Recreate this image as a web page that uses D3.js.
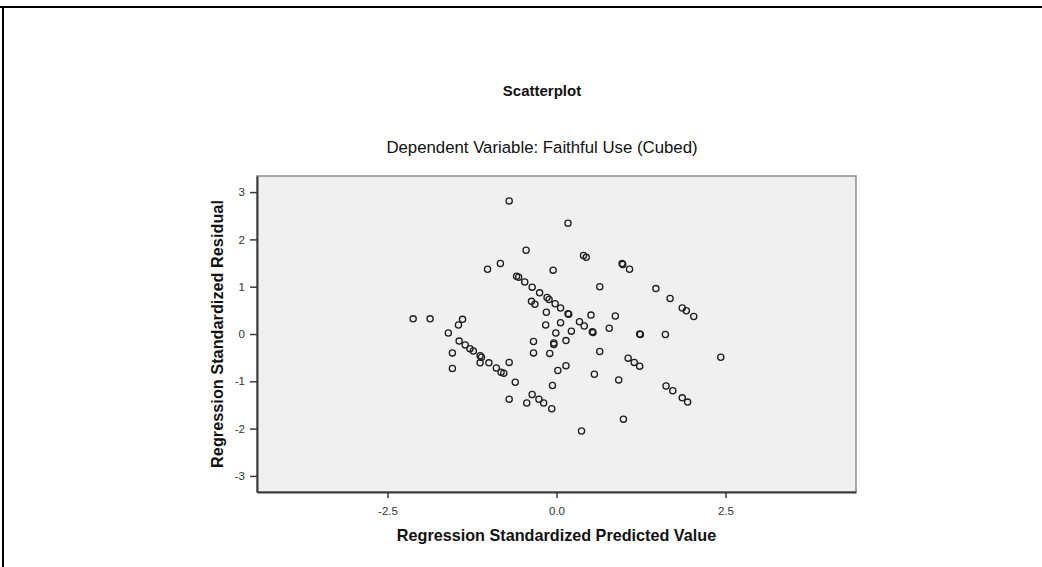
<!DOCTYPE html>
<html lang="en">
<head>
    <meta charset="UTF-8">
    <title>Scatterplot</title>
    <script src="https://d3js.org/d3.v7.min.js"></script>
    <style>
        body { margin: 0; background: #fff; }
        svg text { font-family: "Liberation Sans", Arial, sans-serif; }
    </style>
</head>
<body>
<div id="chart"></div>
<script type="text/javascript">

    // standardized predicted values (x) and residuals (y)
    var predicted = [
        -2.12, -1.87, -1.39, -1.45, -1.60, -1.44, -1.35, -1.28, -1.23, -1.13,
        -1.11, -1.54, -1.13, -1.00, -0.89, -0.82, -0.78, -0.70, -1.54, -0.61,
        -0.70, -0.44, -0.36, -0.26, -0.19, -0.07, -0.06, 0.02, 0.14, -0.10,
        -0.04, -0.04, 0.14, -0.34, -0.34, -0.16, -0.01, 0.06, 0.22, 0.34,
        0.41, 0.53, 0.54, 0.78, 0.87, 0.51, 0.64, 0.56, 0.92, 1.06,
        1.15, 1.23, 1.23, 1.24, 1.61, 2.43, 1.62, 1.72, 1.86, 1.94,
        0.99, 0.37, -0.70, 0.17, -0.45, -0.83, -1.02, -0.05, 0.40, 0.44,
        0.97, 0.98, 1.08, -0.59, -0.56, -0.47, -0.36, -0.25, -0.14, -0.11,
        -0.37, -0.32, -0.02, 0.06, 0.17, 0.18, -0.15, 0.64, 1.47, 1.68,
        1.86, 1.92, 2.03
    ];
    var residual = [
        0.32, 0.32, 0.31, 0.19, 0.02, -0.15, -0.23, -0.31, -0.36, -0.46,
        -0.49, -0.40, -0.61, -0.61, -0.72, -0.81, -0.83, -0.60, -0.73, -1.02,
        -1.38, -1.46, -1.28, -1.38, -1.46, -1.58, -1.09, -0.77, -0.67, -0.41,
        -0.22, -0.19, -0.14, -0.16, -0.40, 0.19, 0.02, 0.24, 0.06, 0.26,
        0.17, 0.05, 0.03, 0.12, 0.38, 0.40, -0.37, -0.85, -0.97, -0.51,
        -0.60, -0.68, 0.00, -0.01, -0.01, -0.49, -1.10, -1.20, -1.35, -1.44,
        -1.80, -2.05, 2.81, 2.34, 1.77, 1.49, 1.37, 1.35, 1.66, 1.62,
        1.49, 1.47, 1.37, 1.22, 1.20, 1.10, 0.99, 0.87, 0.77, 0.73,
        0.69, 0.63, 0.64, 0.55, 0.43, 0.42, 0.46, 1.00, 0.96, 0.75,
        0.55, 0.49, 0.37
    ];

    var yTicks = [-3, -2, -1, 0, 1, 2, 3];
    var xTicks = [-2.5, 0, 2.5];

    var title = "Scatterplot";
    var subtitle = "Dependent Variable: Faithful Use (Cubed)";
    var xTitle = "Regression Standardized Predicted Value";
    var yTitle = "Regression Standardized Residual";

    var width = 1042, height = 567;
    var plot = { left: 257, top: 176, width: 599, height: 316 };

    var svg = d3.select("#chart")
        .append("svg")
        .attr("width", width)
        .attr("height", height);

    // outer frame lines (top and left)
    svg.append("line")
        .attr("x1", 0).attr("x2", width)
        .attr("y1", 7).attr("y2", 7)
        .style("stroke", "#000").style("stroke-width", 2);
    svg.append("line")
        .attr("x1", 3).attr("x2", 3)
        .attr("y1", 6).attr("y2", height)
        .style("stroke", "#000").style("stroke-width", 2);

    var x = d3.scaleLinear()
        .domain([-4.43, 4.43])
        .range([plot.left, plot.left + plot.width]);

    var y = d3.scaleLinear()
        .domain([-3.34, 3.34])
        .range([plot.top + plot.height, plot.top]);

    // plot background
    svg.append("rect")
        .attr("x", plot.left)
        .attr("y", plot.top)
        .attr("width", plot.width)
        .attr("height", plot.height)
        .style("fill", "#f0f0f0")
        .style("stroke", "#8c8c8c")
        .style("stroke-width", 1.5);

    var yAxis = d3.axisLeft(y)
        .tickValues(yTicks)
        .tickSize(7)
        .tickSizeOuter(0)
        .tickPadding(5)
        .tickFormat(function(d) { return String(d); });

    var xAxis = d3.axisBottom(x)
        .tickValues(xTicks)
        .tickSize(6)
        .tickSizeOuter(0)
        .tickPadding(9)
        .tickFormat(function(d) { return d.toFixed(1); });

    var gy = svg.append("g")
        .attr("transform", "translate(" + plot.left + ",0)")
        .call(yAxis);

    var gx = svg.append("g")
        .attr("transform", "translate(0," + (plot.top + plot.height) + ")")
        .call(xAxis);

    [gx, gy].forEach(function(g) {
        g.select(".domain").style("stroke", "#3a3a3a").style("stroke-width", 2);
        g.selectAll(".tick line").style("stroke", "#3a3a3a").style("stroke-width", 1.5);
        g.selectAll(".tick text")
            .style("font-size", "11.5px")
            .style("fill", "#333");
    });

    // points
    var pts = predicted.map(function(v, i) { return [v, residual[i]]; });

    svg.append("g")
        .selectAll("circle")
        .data(pts)
        .enter()
        .append("circle")
        .attr("cx", function(d) { return x(d[0]); })
        .attr("cy", function(d) { return y(d[1]); })
        .attr("r", 3.1)
        .style("fill", "none")
        .style("stroke", "#1e1e1e")
        .style("stroke-width", 1.3);

    // titles
    svg.append("text")
        .attr("x", 542)
        .attr("y", 96)
        .attr("text-anchor", "middle")
        .style("font-size", "15px")
        .style("font-weight", "bold")
        .style("fill", "#111")
        .text(title);

    svg.append("text")
        .attr("x", 542)
        .attr("y", 153)
        .attr("text-anchor", "middle")
        .style("font-size", "16.8px")
        .style("fill", "#111")
        .text(subtitle);

    svg.append("text")
        .attr("x", x(0))
        .attr("y", 541)
        .attr("text-anchor", "middle")
        .style("font-size", "16.2px")
        .style("font-weight", "bold")
        .style("fill", "#111")
        .text(xTitle);

    svg.append("text")
        .attr("transform", "translate(223," + y(0) + ") rotate(-90)")
        .attr("text-anchor", "middle")
        .style("font-size", "16.3px")
        .style("font-weight", "bold")
        .style("fill", "#111")
        .text(yTitle);

</script>
</body>
</html>
